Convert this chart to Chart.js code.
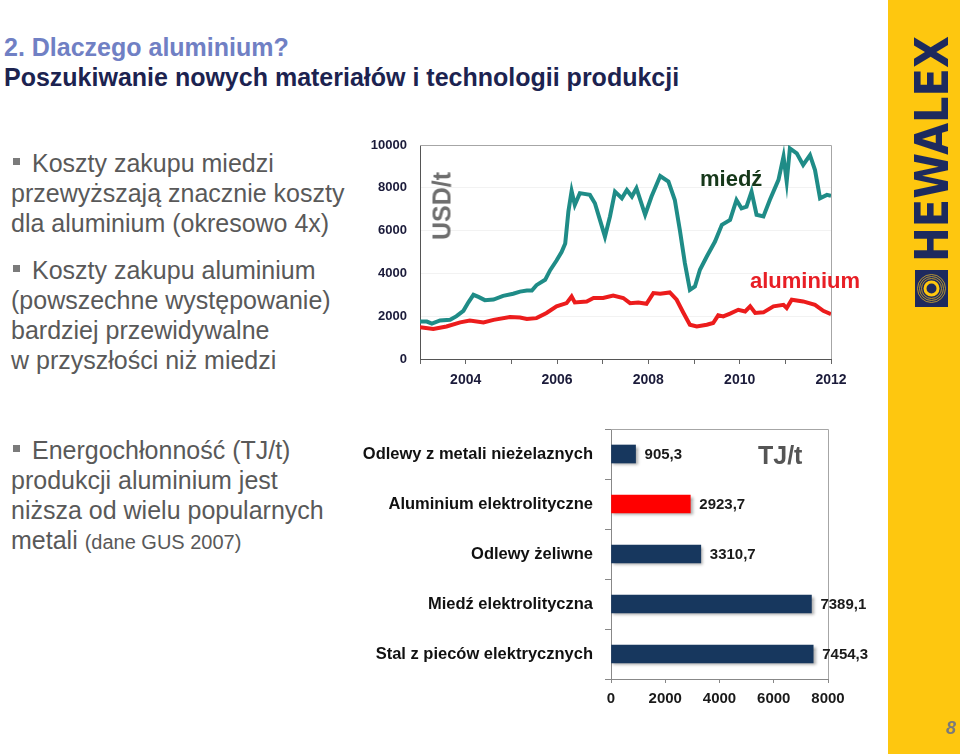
<!DOCTYPE html>
<html lang="pl">
<head>
<meta charset="utf-8">
<title>Dlaczego aluminium?</title>
<script src="https://cdn.jsdelivr.net/npm/chart.js@4.4.1/dist/chart.umd.min.js"></script>
<style>
  body {
    margin: 0;
    width: 960px;
    height: 754px;
    position: relative;
    overflow: hidden;
    background: #fff;
    font-family: 'Liberation Sans', Arial, sans-serif;
  }
  .abs { position: absolute; white-space: nowrap; }
  .title1 { left: 4px; top: 32px; font-size: 25px; line-height: 30px; font-weight: bold; color: #7080c4; }
  .title2 { left: 4px; top: 62px; font-size: 25px; line-height: 30px; font-weight: bold; color: #1c2350; }
  .bullet { left: 11px; font-size: 25px; line-height: 30px; color: #595959; text-indent: 21px; }
  .bullet::before {
    content: '';
    position: absolute;
    left: 2px;
    top: 10px;
    width: 7px;
    height: 7px;
    background: #7b7b7b;
  }
  .bullet small { font-size: 20px; }
  .sidebar { left: 888px; top: 0; width: 72px; height: 754px; background: #fec70f; }
  .rot { transform: translate(-50%, -50%) rotate(-90deg); }
  #priceWrap { left: 360px; top: 130px; width: 510px; height: 270px; }
  #energyWrap { left: 360px; top: 425px; width: 520px; height: 300px; }
</style>
</head>
<body>

<div class="abs title1">2. Dlaczego aluminium?</div>
<div class="abs title2">Poszukiwanie nowych materiałów i technologii produkcji</div>

<div class="abs bullet" style="top:148px">Koszty zakupu miedzi<br>przewyższają znacznie koszty<br>dla aluminium (okresowo 4x)</div>
<div class="abs bullet" style="top:255px">Koszty zakupu aluminium<br>(powszechne występowanie)<br>bardziej przewidywalne<br>w przyszłości niż miedzi</div>
<div class="abs bullet" style="top:435px">Energochłonność (TJ/t)<br>produkcji aluminium jest<br>niższa od wielu popularnych<br>metali <small>(dane GUS 2007)</small></div>

<div class="abs" id="priceWrap"><canvas id="priceChart"></canvas></div>
<div class="abs" id="energyWrap"><canvas id="energyChart"></canvas></div>

<div class="abs rot" style="left:442px; top:206px; font-size:25px; font-weight:bold; color:#6e6e6e">USD/t</div>
<div class="abs" style="left:700px; top:166px; font-size:22px; line-height:26px; font-weight:bold; color:#16381a">miedź</div>
<div class="abs" style="left:750px; top:268px; font-size:22px; line-height:26px; font-weight:bold; color:#e81e25">aluminium</div>
<div class="abs" style="left:758px; top:440px; font-size:25px; line-height:30px; font-weight:bold; color:#555">TJ/t</div>

<div class="abs sidebar"></div>
<svg class="abs" style="left:0; top:0" width="960" height="754">
  <text transform="translate(948,262) rotate(-90)" x="0" y="0" font-family="'Liberation Sans Narrow', 'DejaVu Sans Condensed', sans-serif"
        font-weight="bold" font-size="46" fill="#1d2a5e" textLength="226" lengthAdjust="spacingAndGlyphs">HEWALEX</text>
  <rect x="915" y="270" width="33" height="37" fill="#1d2a5e"/>
  <circle cx="931.5" cy="288.5" r="14" fill="none" stroke="#d9ae2a" stroke-width="0.8"/>
  <circle cx="931.5" cy="288.5" r="12" fill="none" stroke="#d9ae2a" stroke-width="0.8"/>
  <circle cx="931.5" cy="288.5" r="10" fill="none" stroke="#d9ae2a" stroke-width="0.8"/>
  <circle cx="931.5" cy="288.5" r="6.5" fill="none" stroke="#fec70f" stroke-width="3"/>
  <text x="946" y="734" font-family="'Liberation Sans', Arial, sans-serif" font-weight="bold" font-style="italic"
        font-size="18" fill="#7a7a7a">8</text>
</svg>

<script>
// Ceny miedzi i aluminium (USD/t)
const copperYears = [
  2003.00, 2003.15, 2003.26, 2003.44, 2003.66, 2003.80, 2003.95, 2004.06, 2004.17, 2004.28,
  2004.42, 2004.61, 2004.82, 2005.04, 2005.19, 2005.34, 2005.45, 2005.55, 2005.74, 2005.85,
  2005.99, 2006.10, 2006.18, 2006.25, 2006.32, 2006.39, 2006.50, 2006.72, 2006.83, 2006.94,
  2007.05, 2007.16, 2007.27, 2007.42, 2007.53, 2007.64, 2007.74, 2007.93, 2008.07, 2008.26,
  2008.44, 2008.58, 2008.69, 2008.80, 2008.91, 2009.02, 2009.13, 2009.28, 2009.46, 2009.61,
  2009.79, 2009.93, 2010.04, 2010.15, 2010.26, 2010.37, 2010.52, 2010.66, 2010.85, 2010.96,
  2011.03, 2011.10, 2011.25, 2011.39, 2011.54, 2011.65, 2011.76, 2011.91, 2012.00
];
const copperPrices = [
  1750, 1750, 1650, 1800, 1830, 2000, 2250, 2650, 3000, 2900,
  2750, 2780, 2950, 3050, 3150, 3200, 3200, 3450, 3700, 4150,
  4600, 5000, 5400, 6900, 7850, 7200, 7750, 7670, 7280, 6500,
  5720, 6660, 7820, 7510, 7900, 7590, 7980, 6740, 7590, 8550,
  8290, 7430, 6030, 4480, 3230, 3390, 4170, 4790, 5490, 6270,
  6500, 7430, 7040, 7120, 7820, 6740, 6660, 7430, 8370, 9460,
  8290, 9840, 9610, 9070, 9530, 8830, 7510, 7670, 7620
];

const aluminiumYears = [
  2003.00, 2003.29, 2003.58, 2003.88, 2004.09, 2004.39, 2004.61, 2004.97, 2005.19, 2005.34,
  2005.55, 2005.77, 2005.99, 2006.21, 2006.32, 2006.39, 2006.65, 2006.80, 2007.01, 2007.23,
  2007.45, 2007.60, 2007.78, 2007.96, 2008.11, 2008.26, 2008.47, 2008.62, 2008.77, 2008.91,
  2009.06, 2009.28, 2009.42, 2009.53, 2009.64, 2009.79, 2009.97, 2010.12, 2010.23, 2010.34,
  2010.52, 2010.74, 2010.96, 2011.03, 2011.14, 2011.39, 2011.65, 2011.83, 2012.00
];
const aluminiumPrices = [
  1490, 1400, 1520, 1710, 1800, 1710, 1830, 1960, 1940, 1870,
  1910, 2150, 2460, 2610, 2920, 2640, 2690, 2850, 2850, 2970,
  2850, 2610, 2640, 2580, 3080, 3050, 3110, 2770, 2150, 1600,
  1520, 1600, 1680, 2040, 1990, 2120, 2300, 2220, 2460, 2150,
  2180, 2460, 2530, 2380, 2770, 2690, 2530, 2250, 2100
];

const priceTicks = [0, 2000, 4000, 6000, 8000, 10000];
const yearTicks = [2003, 2004, 2005, 2006, 2007, 2008, 2009, 2010, 2011, 2012];

// Energochłonność produkcji (TJ/t), dane GUS 2007
const energyCategories = [
  'Odlewy z metali nieżelaznych',
  'Aluminium elektrolityczne',
  'Odlewy żeliwne',
  'Miedź elektrolityczna',
  'Stal z pieców elektrycznych'
];
const energyValues = [905.3, 2923.7, 3310.7, 7389.1, 7454.3];
const energyTicks = [0, 2000, 4000, 6000, 8000];

const FONT = "'Liberation Sans', Arial, sans-serif";
const NAVY = '#17375e';
const RED = '#ff0000';

function toPoints(xs, ys) {
  return xs.map((x, i) => ({ x: x, y: ys[i] }));
}

function formatPl(v) {
  return v.toFixed(1).replace('.', ',');
}

// top + right border of the plot area
const plotFrame = {
  id: 'plotFrame',
  beforeDatasetsDraw(chart) {
    const { ctx, chartArea: a } = chart;
    ctx.save();
    ctx.strokeStyle = '#a6a6a6';
    ctx.lineWidth = 1;
    ctx.beginPath();
    ctx.moveTo(a.left, Math.round(a.top) + 0.5);
    ctx.lineTo(Math.round(a.right) + 0.5, Math.round(a.top) + 0.5);
    ctx.lineTo(Math.round(a.right) + 0.5, a.bottom);
    ctx.stroke();
    ctx.restore();
  }
};

const barShadow = {
  id: 'barShadow',
  beforeDatasetDraw(chart) {
    const ctx = chart.ctx;
    ctx.save();
    ctx.shadowColor = 'rgba(0,0,0,0.35)';
    ctx.shadowOffsetX = 2;
    ctx.shadowOffsetY = 2;
    ctx.shadowBlur = 3;
  },
  afterDatasetDraw(chart) {
    chart.ctx.restore();
  }
};

const valueLabels = {
  id: 'valueLabels',
  afterDatasetsDraw(chart) {
    const { ctx } = chart;
    const meta = chart.getDatasetMeta(0);
    ctx.save();
    ctx.font = 'bold 15px ' + FONT;
    ctx.fillStyle = '#1a1a1a';
    ctx.textBaseline = 'middle';
    ctx.textAlign = 'left';
    meta.data.forEach((bar, i) => {
      ctx.fillText(formatPl(energyValues[i]), bar.x + 9, bar.y + 1);
    });
    ctx.restore();
  }
};

function initPriceChart() {
  const ctx = document.getElementById('priceChart').getContext('2d');
  new Chart(ctx, {
    type: 'line',
    data: {
      datasets: [
        {
          label: 'miedź',
          data: toPoints(copperYears, copperPrices),
          borderColor: '#1f8c87',
          borderWidth: 4,
          pointRadius: 0,
          tension: 0
        },
        {
          label: 'aluminium',
          data: toPoints(aluminiumYears, aluminiumPrices),
          borderColor: '#ec1c1c',
          borderWidth: 4,
          pointRadius: 0,
          tension: 0
        }
      ]
    },
    options: {
      responsive: true,
      maintainAspectRatio: false,
      animation: false,
      layout: { padding: { top: 15, right: 39, left: 0, bottom: 0 } },
      plugins: { legend: { display: false }, tooltip: { enabled: false } },
      scales: {
        x: {
          type: 'linear',
          min: yearTicks[0],
          max: yearTicks[yearTicks.length - 1],
          afterBuildTicks(scale) {
            scale.ticks = yearTicks.map(v => ({ value: v }));
          },
          afterFit(scale) {
            scale.height = 41;
            scale.paddingLeft = 0;
            scale.paddingRight = 0;
          },
          grid: { drawOnChartArea: false, tickLength: 5, color: '#666' },
          border: { color: '#555' },
          ticks: {
            autoSkip: false,
            maxRotation: 0,
            padding: 8,
            color: '#1b1b3a',
            font: { family: FONT, size: 14, weight: 'bold' },
            callback: v => (v % 2 === 0 ? String(v) : '')
          }
        },
        y: {
          min: priceTicks[0],
          max: priceTicks[priceTicks.length - 1],
          afterBuildTicks(scale) {
            scale.ticks = priceTicks.map(v => ({ value: v }));
          },
          afterFit(scale) {
            scale.width = 60;
            scale.paddingTop = 0;
            scale.paddingBottom = 0;
          },
          grid: { color: '#f2f2f2', drawTicks: false },
          border: { color: '#555' },
          ticks: {
            padding: 13,
            color: '#1b1b3a',
            font: { family: FONT, size: 13, weight: 'bold' },
            callback: v => String(v)
          }
        }
      }
    },
    plugins: [plotFrame]
  });
}

function initEnergyChart() {
  const ctx = document.getElementById('energyChart').getContext('2d');
  new Chart(ctx, {
    type: 'bar',
    data: {
      labels: energyCategories,
      datasets: [{
        data: energyValues,
        backgroundColor: c => (energyCategories[c.dataIndex].startsWith('Aluminium') ? RED : NAVY),
        borderWidth: 0,
        barThickness: 18
      }]
    },
    options: {
      indexAxis: 'y',
      responsive: true,
      maintainAspectRatio: false,
      animation: false,
      layout: { padding: { top: 4, right: 52, left: 0, bottom: 0 } },
      plugins: { legend: { display: false }, tooltip: { enabled: false } },
      scales: {
        x: {
          min: energyTicks[0],
          max: energyTicks[energyTicks.length - 1],
          afterBuildTicks(scale) {
            scale.ticks = energyTicks.map(v => ({ value: v }));
          },
          afterFit(scale) {
            scale.height = 46;
            scale.paddingLeft = 0;
            scale.paddingRight = 0;
          },
          grid: { drawOnChartArea: false, tickLength: 4, color: '#888' },
          border: { color: '#888' },
          ticks: {
            padding: 7,
            color: '#1a1a1a',
            font: { family: FONT, size: 15, weight: 'bold' },
            callback: v => String(v)
          }
        },
        y: {
          afterFit(scale) {
            scale.width = 251;
            scale.paddingTop = 0;
            scale.paddingBottom = 0;
          },
          grid: { drawOnChartArea: false, offset: true, tickLength: 6, color: '#888' },
          border: { color: '#888' },
          ticks: {
            padding: 12,
            color: '#111',
            font: { family: FONT, size: 16.5, weight: 'bold' }
          }
        }
      }
    },
    plugins: [plotFrame, barShadow, valueLabels]
  });
}

document.addEventListener('DOMContentLoaded', () => {
  initPriceChart();
  initEnergyChart();
});
</script>
</body>
</html>
